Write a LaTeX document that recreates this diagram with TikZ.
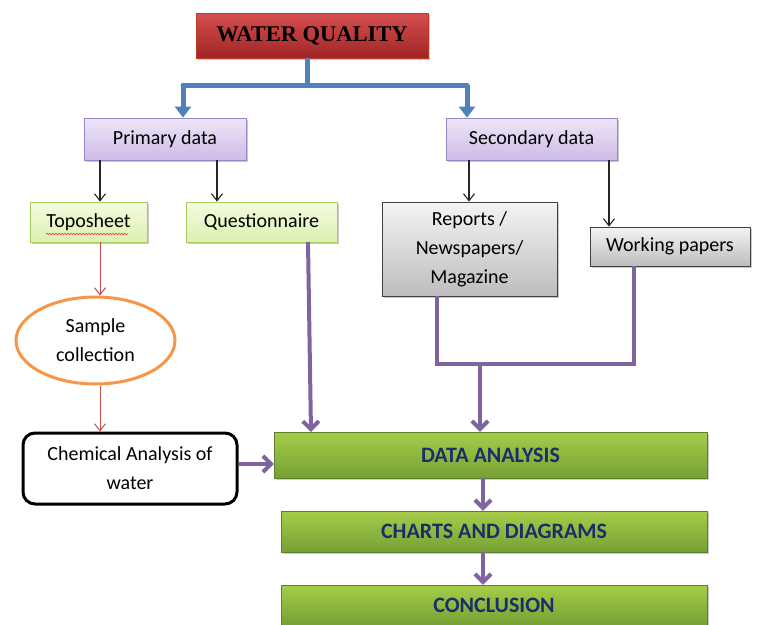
\documentclass[tikz,border=0pt]{standalone}
\usepackage{fontspec}
\setmainfont{Carlito}
\newfontfamily\tnr{Liberation Serif}
\usetikzlibrary{arrows.meta,shapes.geometric,shadows,decorations.pathmorphing,calc}
\definecolor{wqred}{HTML}{C0392B}
\definecolor{wqredtop}{HTML}{D65050}
\definecolor{wqredbot}{HTML}{A02424}
\definecolor{lavtop}{HTML}{EEE6F8}
\definecolor{lavbot}{HTML}{CDBBE6}
\definecolor{lavline}{HTML}{9A85C8}
\definecolor{lgtop}{HTML}{F4FBDF}
\definecolor{lgbot}{HTML}{DDF0B0}
\definecolor{lgline}{HTML}{A6CC5C}
\definecolor{grtop}{HTML}{F4F4F4}
\definecolor{grbot}{HTML}{BDBDBD}
\definecolor{grline}{HTML}{404040}
\definecolor{gntop}{HTML}{A6CD48}
\definecolor{gnbot}{HTML}{76A035}
\definecolor{navy}{HTML}{1A2F6A}
\definecolor{pur}{HTML}{8064A2}
\definecolor{blu}{HTML}{4F81BD}
\definecolor{redl}{HTML}{C0504D}
\definecolor{orng}{HTML}{F79646}
\begin{document}
\begin{tikzpicture}[x=1pt,y=-1pt,
  lbl/.style={font=\fontsize{20}{29}\selectfont, align=center, inner sep=0pt},
  shd/.style={drop shadow={shadow xshift=2pt,shadow yshift=-2pt,opacity=0.35,fill=black!60}},
  titlebox/.style={draw=wqred, line width=0.8pt, top color=wqredtop, bottom color=wqredbot, shd,
     font=\tnr\bfseries\fontsize{22.5}{26}\selectfont, text=black, inner sep=0pt},
  lavbox/.style={lbl, draw=lavline, line width=0.8pt, top color=lavtop, bottom color=lavbot, shd},
  lgbox/.style={lbl, draw=lgline, line width=0.8pt, top color=lgtop, bottom color=lgbot, shd},
  grbox/.style={lbl, draw=grline, line width=0.8pt, top color=grtop, bottom color=grbot, shd},
  gnbox/.style={draw=gnbot!80!black, line width=0.4pt, top color=gntop, bottom color=gnbot, shd,
     font=\bfseries\fontsize{22}{25}\selectfont, text=navy, inner sep=0pt},
  bluearr/.style={draw=blu, line width=5pt, -{Triangle[length=11pt,width=16pt]}},
  blueln/.style={draw=blu, line width=5pt},
  blkarr/.style={draw=black!85, line width=1.1pt, -{Straight Barb[length=7pt,width=11pt]}},
  redarr/.style={draw=redl, line width=1pt, -{Straight Barb[length=7pt,width=11pt]}},
  purln/.style={draw=pur, line width=4pt},
  purarr/.style={draw=pur, line width=4pt, -{Straight Barb[length=8pt,width=16pt,line width=4pt]}},
]
\useasboundingbox (0,0) rectangle (757,624);

\node[titlebox, minimum width=232pt, minimum height=45pt] (title) at (312,35.5) {WATER QUALITY};

\node[lavbox, minimum width=162pt, minimum height=42pt] (prim) at (165,139) {Primary data};
\node[lavbox, minimum width=171pt, minimum height=42pt] (sec) at (531.5,139) {Secondary data};

\node[lgbox, minimum width=117pt, minimum height=40pt] (topo) at (88.5,222) {Toposheet};
\node[lgbox, minimum width=151pt, minimum height=40pt] (quest) at (261.5,222) {Questionnaire};

\node[grbox, minimum width=175pt, minimum height=94pt] (rep) at (469.5,249) {Reports /\\Newspapers/\\Magazine};
\node[grbox, minimum width=160pt, minimum height=39pt] (work) at (670,246.5) {Working papers};

\node[lbl, ellipse, draw=orng, line width=3pt, fill=white, minimum width=159pt, minimum height=87pt] (samp) at (95.5,340.5) {Sample\\collection};

\node[lbl, draw=black, line width=3pt, rounded corners=12pt, fill=white, minimum width=214pt, minimum height=71pt] (chem) at (130,468.5) {Chemical Analysis of\\water};

\node[gnbox, minimum width=433pt, minimum height=46pt] (da) at (490.5,455) {DATA ANALYSIS};
\node[gnbox, minimum width=426pt, minimum height=41pt] (cd) at (494,531.5) {CHARTS AND DIAGRAMS};
\node[gnbox, minimum width=426pt, minimum height=40pt] (cn) at (494,605) {CONCLUSION};

% spell-check underline
\draw[red!80, line width=0.6pt, decorate, decoration={snake, amplitude=0.8pt, segment length=3pt}]
  (46,234) -- (128,234);

% blue connectors
\coordinate (jn) at (307,85);
\coordinate (pa) at (183,85);
\coordinate (sa) at (467,85);
\draw[blueln] (title.south -| jn) -- (jn);
\draw[blueln, line cap=round] (pa) -- (sa);
\draw[bluearr] (pa) -- (pa |- prim.north);
\draw[bluearr] (sa) -- (sa |- sec.north);

% black arrows
\coordinate (p1) at (100,160);
\coordinate (p2) at (217,160);
\coordinate (s1) at (469,160);
\coordinate (s2) at (609,160);
\draw[blkarr] (p1) -- (p1 |- topo.north);
\draw[blkarr] (p2) -- (p2 |- quest.north);
\draw[blkarr] (s1) -- (s1 |- rep.north);
\draw[blkarr] (s2) -- (s2 |- work.north);

% red arrows
\coordinate (r1) at (100,242);
\draw[redarr] (r1) -- (r1 |- samp.north);
\coordinate (r2) at (100,386);
\draw[redarr] (r2) -- (r2 |- chem.north);

% purple connectors
\coordinate (q1) at (308,242);
\coordinate (q2) at (311,432);
\draw[purarr] (q1) -- (q2);
\coordinate (rb) at (437,296);
\coordinate (wb) at (634,266);
\coordinate (m1) at (437,364);
\coordinate (m2) at (634,364);
\coordinate (mm) at (480,364);
\draw[purln, line join=miter] (rb) -- (m1) -- (m2) -- (wb);
\draw[purarr] (mm) -- (mm |- da.north);
\draw[purarr] (chem.east |- 0,464) -- (da.west |- 0,464);
\coordinate (d1) at (483,478);
\draw[purarr] (d1) -- (d1 |- cd.north);
\coordinate (d2) at (483,552);
\draw[purarr] (d2) -- (d2 |- cn.north);
\end{tikzpicture}
\end{document}
